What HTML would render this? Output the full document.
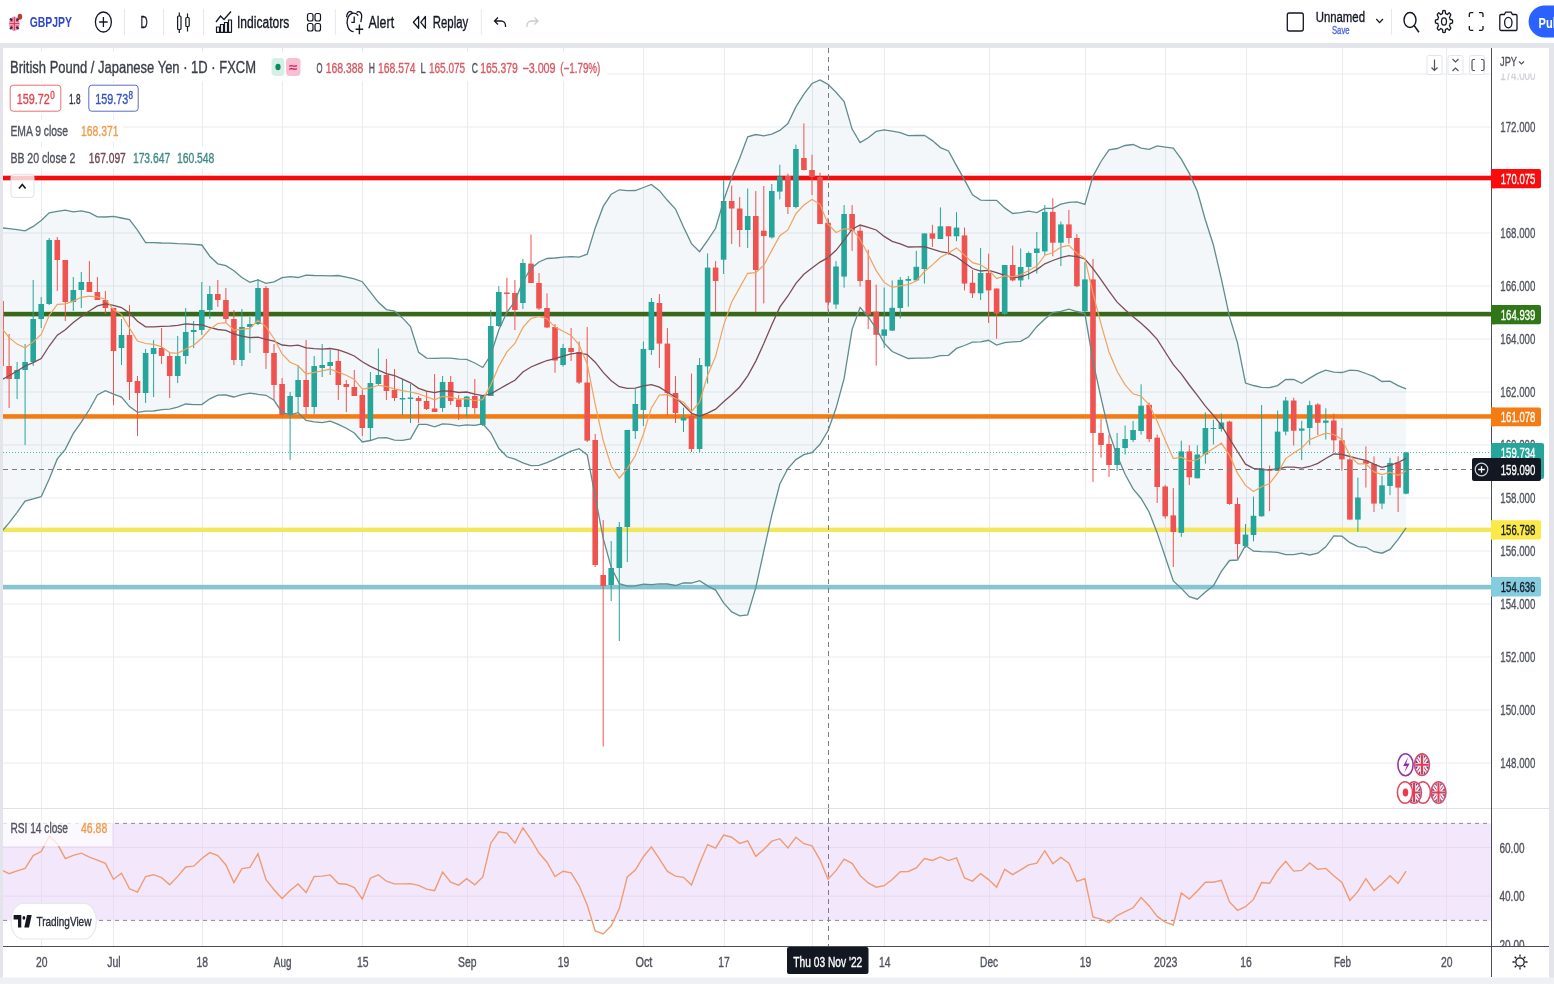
<!DOCTYPE html>
<html><head><meta charset="utf-8"><title>GBPJPY chart</title>
<style>html,body{margin:0;padding:0;background:#fff;overflow:hidden}svg{display:block}text{font-family:'Liberation Sans', Arial, sans-serif}</style>
</head><body>
<svg width="1554" height="984" viewBox="0 0 1554 984">
<rect x="0" y="0" width="1554" height="984" fill="#ffffff"/>
<rect x="0" y="43" width="1554" height="5" fill="#e3e5ea"/>
<rect x="0" y="43" width="3" height="941" fill="#e3e5ea"/>
<rect x="1549" y="43" width="5" height="941" fill="#e3e5ea"/>
<rect x="0" y="977.5" width="1554" height="7" fill="#eef0f3"/>
<defs><clipPath id="cm"><rect x="3" y="48" width="1488" height="760"/></clipPath><clipPath id="cr"><rect x="3" y="809" width="1488" height="137"/></clipPath></defs>
<path d="M41.5 48V808M41.5 809V946M113.5 48V808M113.5 809V946M202.5 48V808M202.5 809V946M282.5 48V808M282.5 809V946M362.5 48V808M362.5 809V946M467.5 48V808M467.5 809V946M563.5 48V808M563.5 809V946M643.5 48V808M643.5 809V946M724.5 48V808M724.5 809V946M812.5 48V808M812.5 809V946M884.5 48V808M884.5 809V946M989.5 48V808M989.5 809V946M1085.5 48V808M1085.5 809V946M1165.5 48V808M1165.5 809V946M1246.5 48V808M1246.5 809V946M1342.5 48V808M1342.5 809V946M1446.5 48V808M1446.5 809V946M3 763.0H1491M3 710.0H1491M3 657.0H1491M3 604.0H1491M3 551.0H1491M3 498.0H1491M3 445.0H1491M3 392.0H1491M3 339.0H1491M3 286.0H1491M3 233.0H1491M3 180.0H1491M3 127.0H1491M3 74.0H1491M3 847.6H1491M3 896.1H1491" stroke="#e9ebf0" stroke-width="1" fill="none"/>
<g clip-path="url(#cm)">
<polygon points="1.1,227.8 9.1,228.6 17.1,229.6 25.1,230.9 33.2,226.4 41.2,220.4 49.2,212.9 57.3,211.4 65.3,210.2 73.3,211.8 81.3,210.9 89.4,212.6 97.4,216.8 105.4,217.0 113.5,216.3 121.5,218.0 129.5,219.6 137.5,230.2 145.6,242.6 153.6,242.6 161.6,243.0 169.7,243.2 177.7,243.7 185.7,243.9 193.7,244.4 201.8,245.0 209.8,256.2 217.8,263.8 225.9,265.7 233.9,270.7 241.9,277.5 249.9,282.3 258.0,279.9 266.0,283.4 274.0,281.8 282.1,277.7 290.1,276.6 298.1,277.5 306.1,275.1 314.2,275.5 322.2,275.7 330.2,275.8 338.3,275.5 346.3,277.1 354.3,278.9 362.3,281.7 370.4,292.1 378.4,302.3 386.4,309.6 394.5,311.0 402.5,317.9 410.5,326.6 418.6,352.4 426.6,358.1 434.6,358.4 442.6,358.1 450.7,358.1 458.7,359.2 466.7,359.3 474.8,363.0 482.8,367.5 490.8,354.8 498.8,330.1 506.9,312.3 514.9,301.3 522.9,281.2 531.0,268.4 539.0,262.0 547.0,258.5 555.0,258.0 563.1,257.1 571.1,256.7 579.1,257.2 587.2,254.2 595.2,227.9 603.2,206.4 611.2,194.3 619.3,189.8 627.3,190.6 635.3,190.5 643.4,187.5 651.4,184.5 659.4,190.7 667.4,200.3 675.5,209.1 683.5,227.1 691.5,243.6 699.6,251.7 707.6,240.4 715.6,228.3 723.6,200.8 731.7,177.4 739.7,158.2 747.7,136.8 755.8,134.5 763.8,135.9 771.8,134.2 779.8,130.4 787.9,123.5 795.9,106.9 803.9,94.1 812.0,83.5 820.0,80.0 828.0,84.4 836.0,92.3 844.1,101.5 852.1,129.1 860.1,142.5 868.2,137.8 876.2,131.4 884.2,129.8 892.2,131.2 900.3,132.6 908.3,135.6 916.3,135.5 924.4,135.3 932.4,140.6 940.4,147.6 948.5,150.9 956.5,165.6 964.5,179.9 972.5,194.8 980.6,200.1 988.6,200.4 996.6,200.3 1004.7,207.9 1012.7,213.5 1020.7,212.7 1028.7,211.2 1036.8,212.6 1044.8,208.4 1052.8,208.3 1060.9,204.1 1068.9,202.3 1076.9,201.8 1084.9,204.4 1093.0,176.1 1101.0,161.5 1109.0,149.9 1117.1,148.5 1125.1,145.5 1133.1,144.5 1141.1,148.1 1149.2,149.3 1157.2,145.9 1165.2,147.1 1173.3,148.2 1181.3,159.2 1189.3,173.4 1197.3,191.3 1205.4,220.0 1213.4,245.0 1221.4,279.1 1229.5,316.6 1237.5,342.9 1245.5,383.0 1253.5,385.5 1261.6,387.3 1269.6,387.6 1277.6,385.6 1285.7,379.4 1293.7,379.5 1301.7,383.3 1309.7,378.1 1317.8,373.4 1325.8,370.2 1333.8,372.1 1341.9,372.5 1349.9,370.2 1357.9,370.6 1365.9,373.5 1374.0,376.7 1382.0,381.5 1390.0,381.1 1398.1,385.6 1406.1,388.9 1406.1,527.8 1398.1,539.3 1390.0,549.4 1382.0,553.2 1374.0,551.7 1365.9,547.3 1357.9,546.7 1349.9,542.7 1341.9,536.2 1333.8,535.8 1325.8,546.8 1317.8,553.2 1309.7,555.0 1301.7,553.2 1293.7,554.7 1285.7,554.7 1277.6,552.3 1269.6,551.9 1261.6,551.7 1253.5,551.2 1245.5,545.5 1237.5,560.0 1229.5,560.5 1221.4,571.4 1213.4,585.7 1205.4,592.1 1197.3,599.2 1189.3,596.6 1181.3,588.4 1173.3,580.9 1165.2,556.8 1157.2,532.9 1149.2,512.2 1141.1,498.5 1133.1,488.9 1125.1,474.2 1117.1,455.6 1109.0,432.2 1101.0,397.8 1093.0,361.3 1084.9,313.6 1076.9,311.5 1068.9,309.1 1060.9,311.4 1052.8,312.7 1044.8,319.1 1036.8,326.7 1028.7,336.7 1020.7,341.4 1012.7,341.9 1004.7,342.6 996.6,345.1 988.6,340.3 980.6,341.8 972.5,342.2 964.5,345.5 956.5,348.4 948.5,355.3 940.4,355.6 932.4,357.7 924.4,358.2 916.3,358.2 908.3,358.5 900.3,355.1 892.2,351.5 884.2,343.1 876.2,328.6 868.2,316.9 860.1,307.4 852.1,329.3 844.1,378.7 836.0,408.3 828.0,430.8 820.0,444.3 812.0,452.7 803.9,454.6 795.9,459.6 787.9,468.5 779.8,484.0 771.8,515.2 763.8,551.2 755.8,587.7 747.7,614.8 739.7,615.9 731.7,611.9 723.6,602.9 715.6,590.1 707.6,585.9 699.6,580.6 691.5,583.0 683.5,583.0 675.5,585.5 667.4,584.0 659.4,583.8 651.4,584.7 643.4,584.2 635.3,585.9 627.3,586.1 619.3,583.6 611.2,567.2 603.2,538.4 595.2,496.4 587.2,454.8 579.1,448.7 571.1,451.1 563.1,455.2 555.0,459.2 547.0,462.6 539.0,465.4 531.0,465.6 522.9,462.9 514.9,459.2 506.9,456.8 498.8,448.3 490.8,432.9 482.8,423.8 474.8,425.3 466.7,424.8 458.7,425.9 450.7,424.3 442.6,423.8 434.6,426.8 426.6,424.3 418.6,424.4 410.5,438.9 402.5,440.3 394.5,440.1 386.4,437.7 378.4,437.8 370.4,440.5 362.3,442.0 354.3,433.0 346.3,428.2 338.3,424.3 330.2,421.1 322.2,422.6 314.2,421.9 306.1,420.5 298.1,412.7 290.1,414.9 282.1,412.4 274.0,400.3 266.0,395.3 258.0,394.3 249.9,393.1 241.9,394.7 233.9,397.0 225.9,395.0 217.8,395.2 209.8,398.8 201.8,404.6 193.7,404.6 185.7,404.0 177.7,407.2 169.7,409.1 161.6,409.6 153.6,411.0 145.6,411.2 137.5,412.4 129.5,406.6 121.5,397.1 113.5,394.2 105.4,390.7 97.4,395.0 89.4,409.5 81.3,422.2 73.3,433.4 65.3,449.3 57.3,458.9 49.2,479.1 41.2,496.7 33.2,498.8 25.1,501.1 17.1,512.3 9.1,522.9 1.1,532.2" fill="#5d8db0" fill-opacity="0.075"/>
<rect x="3" y="175.7" width="1488" height="4.6" fill="#f20c0c"/>
<rect x="3" y="311.8" width="1488" height="4.6" fill="#3a681b"/>
<rect x="3" y="414.2" width="1488" height="4.5" fill="#f47a12"/>
<rect x="3" y="527.6" width="1488" height="4.5" fill="#f3e65a"/>
<rect x="3" y="584.8" width="1488" height="4.6" fill="#86c4cf"/>
<path d="M3 452.5H1491" stroke="#26a69a" stroke-width="1" stroke-dasharray="1 2" opacity="0.8"/>
<path d="M1.1 298.0V370.0" stroke="#ef5350" stroke-width="1"/><rect x="-1.7" y="301.0" width="5.6" height="65.0" fill="#ef5350"/><path d="M9.1 334.0V408.0" stroke="#ef5350" stroke-width="1"/><rect x="6.3" y="366.0" width="5.6" height="13.0" fill="#ef5350"/><path d="M17.1 362.0V399.0" stroke="#26a69a" stroke-width="1"/><rect x="14.3" y="370.0" width="5.6" height="9.0" fill="#26a69a"/><path d="M25.1 344.0V445.0" stroke="#26a69a" stroke-width="1"/><rect x="22.3" y="362.0" width="5.6" height="8.0" fill="#26a69a"/><path d="M33.2 280.0V366.0" stroke="#26a69a" stroke-width="1"/><rect x="30.4" y="319.0" width="5.6" height="43.0" fill="#26a69a"/><path d="M41.2 297.0V328.0" stroke="#26a69a" stroke-width="1"/><rect x="38.4" y="304.0" width="5.6" height="15.0" fill="#26a69a"/><path d="M49.2 238.0V305.0" stroke="#26a69a" stroke-width="1"/><rect x="46.4" y="240.0" width="5.6" height="64.0" fill="#26a69a"/><path d="M57.3 237.0V291.0" stroke="#ef5350" stroke-width="1"/><rect x="54.5" y="240.0" width="5.6" height="20.0" fill="#ef5350"/><path d="M65.3 260.0V321.0" stroke="#ef5350" stroke-width="1"/><rect x="62.5" y="260.0" width="5.6" height="42.0" fill="#ef5350"/><path d="M73.3 277.0V311.0" stroke="#26a69a" stroke-width="1"/><rect x="70.5" y="290.0" width="5.6" height="12.0" fill="#26a69a"/><path d="M81.3 272.0V308.0" stroke="#26a69a" stroke-width="1"/><rect x="78.5" y="282.0" width="5.6" height="8.0" fill="#26a69a"/><path d="M89.4 261.0V292.0" stroke="#ef5350" stroke-width="1"/><rect x="86.6" y="282.0" width="5.6" height="10.0" fill="#ef5350"/><path d="M97.4 277.0V300.0" stroke="#ef5350" stroke-width="1"/><rect x="94.6" y="292.0" width="5.6" height="8.0" fill="#ef5350"/><path d="M105.4 291.0V314.0" stroke="#ef5350" stroke-width="1"/><rect x="102.6" y="300.0" width="5.6" height="8.0" fill="#ef5350"/><path d="M113.5 308.0V405.0" stroke="#ef5350" stroke-width="1"/><rect x="110.7" y="308.0" width="5.6" height="43.0" fill="#ef5350"/><path d="M121.5 319.0V365.0" stroke="#26a69a" stroke-width="1"/><rect x="118.7" y="335.0" width="5.6" height="13.0" fill="#26a69a"/><path d="M129.5 305.0V400.0" stroke="#ef5350" stroke-width="1"/><rect x="126.7" y="335.0" width="5.6" height="47.0" fill="#ef5350"/><path d="M137.5 376.0V436.0" stroke="#ef5350" stroke-width="1"/><rect x="134.7" y="381.0" width="5.6" height="12.0" fill="#ef5350"/><path d="M145.6 349.0V403.0" stroke="#26a69a" stroke-width="1"/><rect x="142.8" y="353.0" width="5.6" height="40.0" fill="#26a69a"/><path d="M153.6 340.0V397.0" stroke="#26a69a" stroke-width="1"/><rect x="150.8" y="348.0" width="5.6" height="6.0" fill="#26a69a"/><path d="M161.6 328.0V364.0" stroke="#ef5350" stroke-width="1"/><rect x="158.8" y="348.0" width="5.6" height="8.0" fill="#ef5350"/><path d="M169.7 353.0V398.0" stroke="#ef5350" stroke-width="1"/><rect x="166.9" y="356.0" width="5.6" height="20.0" fill="#ef5350"/><path d="M177.7 336.0V383.0" stroke="#26a69a" stroke-width="1"/><rect x="174.9" y="356.0" width="5.6" height="20.0" fill="#26a69a"/><path d="M185.7 308.0V364.0" stroke="#26a69a" stroke-width="1"/><rect x="182.9" y="332.0" width="5.6" height="24.0" fill="#26a69a"/><path d="M193.7 321.0V348.0" stroke="#26a69a" stroke-width="1"/><rect x="190.9" y="330.0" width="5.6" height="2.0" fill="#26a69a"/><path d="M201.8 282.0V335.0" stroke="#26a69a" stroke-width="1"/><rect x="199.0" y="310.0" width="5.6" height="20.0" fill="#26a69a"/><path d="M209.8 286.0V319.0" stroke="#26a69a" stroke-width="1"/><rect x="207.0" y="294.0" width="5.6" height="16.0" fill="#26a69a"/><path d="M217.8 280.0V307.0" stroke="#ef5350" stroke-width="1"/><rect x="215.0" y="294.0" width="5.6" height="6.0" fill="#ef5350"/><path d="M225.9 288.0V322.0" stroke="#ef5350" stroke-width="1"/><rect x="223.1" y="300.0" width="5.6" height="19.0" fill="#ef5350"/><path d="M233.9 310.0V365.0" stroke="#ef5350" stroke-width="1"/><rect x="231.1" y="319.0" width="5.6" height="41.0" fill="#ef5350"/><path d="M241.9 309.0V366.0" stroke="#26a69a" stroke-width="1"/><rect x="239.1" y="327.0" width="5.6" height="33.0" fill="#26a69a"/><path d="M249.9 317.0V353.0" stroke="#26a69a" stroke-width="1"/><rect x="247.1" y="324.0" width="5.6" height="3.0" fill="#26a69a"/><path d="M258.0 279.0V325.0" stroke="#26a69a" stroke-width="1"/><rect x="255.2" y="288.0" width="5.6" height="36.0" fill="#26a69a"/><path d="M266.0 286.0V369.0" stroke="#ef5350" stroke-width="1"/><rect x="263.2" y="288.0" width="5.6" height="65.0" fill="#ef5350"/><path d="M274.0 344.0V400.0" stroke="#ef5350" stroke-width="1"/><rect x="271.2" y="353.0" width="5.6" height="32.0" fill="#ef5350"/><path d="M282.1 378.0V417.0" stroke="#ef5350" stroke-width="1"/><rect x="279.3" y="384.0" width="5.6" height="31.0" fill="#ef5350"/><path d="M290.1 392.0V460.0" stroke="#26a69a" stroke-width="1"/><rect x="287.3" y="396.0" width="5.6" height="19.0" fill="#26a69a"/><path d="M298.1 365.0V413.0" stroke="#26a69a" stroke-width="1"/><rect x="295.3" y="380.0" width="5.6" height="17.0" fill="#26a69a"/><path d="M306.1 340.0V415.0" stroke="#ef5350" stroke-width="1"/><rect x="303.3" y="380.0" width="5.6" height="27.0" fill="#ef5350"/><path d="M314.2 356.0V414.0" stroke="#26a69a" stroke-width="1"/><rect x="311.4" y="366.0" width="5.6" height="41.0" fill="#26a69a"/><path d="M322.2 344.0V377.0" stroke="#26a69a" stroke-width="1"/><rect x="319.4" y="365.0" width="5.6" height="3.0" fill="#26a69a"/><path d="M330.2 350.0V375.0" stroke="#26a69a" stroke-width="1"/><rect x="327.4" y="362.0" width="5.6" height="4.0" fill="#26a69a"/><path d="M338.3 350.0V400.0" stroke="#ef5350" stroke-width="1"/><rect x="335.5" y="361.0" width="5.6" height="24.0" fill="#ef5350"/><path d="M346.3 380.0V412.0" stroke="#ef5350" stroke-width="1"/><rect x="343.5" y="384.0" width="5.6" height="3.0" fill="#ef5350"/><path d="M354.3 370.0V396.0" stroke="#ef5350" stroke-width="1"/><rect x="351.5" y="387.0" width="5.6" height="9.0" fill="#ef5350"/><path d="M362.3 390.0V436.0" stroke="#ef5350" stroke-width="1"/><rect x="359.5" y="395.0" width="5.6" height="33.0" fill="#ef5350"/><path d="M370.4 372.0V440.0" stroke="#26a69a" stroke-width="1"/><rect x="367.6" y="383.0" width="5.6" height="45.0" fill="#26a69a"/><path d="M378.4 348.5V385.0" stroke="#26a69a" stroke-width="1"/><rect x="375.6" y="375.0" width="5.6" height="9.0" fill="#26a69a"/><path d="M386.4 359.0V400.0" stroke="#ef5350" stroke-width="1"/><rect x="383.6" y="375.0" width="5.6" height="16.0" fill="#ef5350"/><path d="M394.5 369.0V401.0" stroke="#ef5350" stroke-width="1"/><rect x="391.7" y="390.0" width="5.6" height="8.0" fill="#ef5350"/><path d="M402.5 379.0V415.0" stroke="#26a69a" stroke-width="1"/><rect x="399.7" y="398.0" width="5.6" height="1.5" fill="#26a69a"/><path d="M410.5 384.0V423.0" stroke="#26a69a" stroke-width="1"/><rect x="407.7" y="397.5" width="5.6" height="1.5" fill="#26a69a"/><path d="M418.6 396.0V423.0" stroke="#ef5350" stroke-width="1"/><rect x="415.8" y="398.0" width="5.6" height="3.0" fill="#ef5350"/><path d="M426.6 391.0V410.0" stroke="#ef5350" stroke-width="1"/><rect x="423.8" y="401.0" width="5.6" height="8.0" fill="#ef5350"/><path d="M434.6 374.0V412.0" stroke="#ef5350" stroke-width="1"/><rect x="431.8" y="408.5" width="5.6" height="3.5" fill="#ef5350"/><path d="M442.6 376.0V412.0" stroke="#26a69a" stroke-width="1"/><rect x="439.8" y="382.0" width="5.6" height="26.0" fill="#26a69a"/><path d="M450.7 376.0V405.0" stroke="#ef5350" stroke-width="1"/><rect x="447.9" y="382.0" width="5.6" height="19.0" fill="#ef5350"/><path d="M458.7 395.0V420.0" stroke="#ef5350" stroke-width="1"/><rect x="455.9" y="399.5" width="5.6" height="7.5" fill="#ef5350"/><path d="M466.7 396.0V417.0" stroke="#26a69a" stroke-width="1"/><rect x="463.9" y="396.6" width="5.6" height="10.4" fill="#26a69a"/><path d="M474.8 379.0V414.0" stroke="#ef5350" stroke-width="1"/><rect x="472.0" y="396.0" width="5.6" height="12.0" fill="#ef5350"/><path d="M482.8 395.0V426.0" stroke="#26a69a" stroke-width="1"/><rect x="480.0" y="396.0" width="5.6" height="29.0" fill="#26a69a"/><path d="M490.8 310.0V396.0" stroke="#26a69a" stroke-width="1"/><rect x="488.0" y="326.0" width="5.6" height="70.0" fill="#26a69a"/><path d="M498.8 286.0V327.0" stroke="#26a69a" stroke-width="1"/><rect x="496.0" y="292.0" width="5.6" height="34.0" fill="#26a69a"/><path d="M506.9 277.6V314.0" stroke="#ef5350" stroke-width="1"/><rect x="504.1" y="292.5" width="5.6" height="1.5" fill="#ef5350"/><path d="M514.9 280.0V330.0" stroke="#ef5350" stroke-width="1"/><rect x="512.1" y="293.0" width="5.6" height="17.0" fill="#ef5350"/><path d="M522.9 259.0V309.0" stroke="#26a69a" stroke-width="1"/><rect x="520.1" y="263.0" width="5.6" height="40.0" fill="#26a69a"/><path d="M531.0 234.5V283.0" stroke="#ef5350" stroke-width="1"/><rect x="528.2" y="263.6" width="5.6" height="19.4" fill="#ef5350"/><path d="M539.0 273.0V310.0" stroke="#ef5350" stroke-width="1"/><rect x="536.2" y="283.0" width="5.6" height="25.5" fill="#ef5350"/><path d="M547.0 293.4V328.0" stroke="#ef5350" stroke-width="1"/><rect x="544.2" y="308.0" width="5.6" height="19.5" fill="#ef5350"/><path d="M555.0 324.0V372.7" stroke="#ef5350" stroke-width="1"/><rect x="552.2" y="327.0" width="5.6" height="33.5" fill="#ef5350"/><path d="M563.1 344.0V366.6" stroke="#26a69a" stroke-width="1"/><rect x="560.3" y="348.0" width="5.6" height="17.0" fill="#26a69a"/><path d="M571.1 328.0V361.0" stroke="#ef5350" stroke-width="1"/><rect x="568.3" y="348.0" width="5.6" height="4.0" fill="#ef5350"/><path d="M579.1 341.5V384.0" stroke="#ef5350" stroke-width="1"/><rect x="576.3" y="352.0" width="5.6" height="30.5" fill="#ef5350"/><path d="M587.2 327.0V442.0" stroke="#ef5350" stroke-width="1"/><rect x="584.4" y="382.5" width="5.6" height="58.1" fill="#ef5350"/><path d="M595.2 434.0V567.0" stroke="#ef5350" stroke-width="1"/><rect x="592.4" y="440.0" width="5.6" height="125.0" fill="#ef5350"/><path d="M603.2 520.0V746.5" stroke="#ef5350" stroke-width="1"/><rect x="600.4" y="575.0" width="5.6" height="11.0" fill="#ef5350"/><path d="M611.2 541.0V601.0" stroke="#26a69a" stroke-width="1"/><rect x="608.4" y="568.0" width="5.6" height="17.0" fill="#26a69a"/><path d="M619.3 522.0V641.0" stroke="#26a69a" stroke-width="1"/><rect x="616.5" y="527.0" width="5.6" height="41.0" fill="#26a69a"/><path d="M627.3 430.0V562.0" stroke="#26a69a" stroke-width="1"/><rect x="624.5" y="430.0" width="5.6" height="97.0" fill="#26a69a"/><path d="M635.3 389.0V439.0" stroke="#26a69a" stroke-width="1"/><rect x="632.5" y="404.0" width="5.6" height="27.0" fill="#26a69a"/><path d="M643.4 341.5V426.0" stroke="#26a69a" stroke-width="1"/><rect x="640.6" y="349.0" width="5.6" height="61.0" fill="#26a69a"/><path d="M651.4 298.0V355.0" stroke="#26a69a" stroke-width="1"/><rect x="648.6" y="302.0" width="5.6" height="48.0" fill="#26a69a"/><path d="M659.4 294.0V368.0" stroke="#ef5350" stroke-width="1"/><rect x="656.6" y="303.0" width="5.6" height="40.6" fill="#ef5350"/><path d="M667.4 328.0V415.0" stroke="#ef5350" stroke-width="1"/><rect x="664.6" y="343.6" width="5.6" height="49.4" fill="#ef5350"/><path d="M675.5 376.0V423.0" stroke="#ef5350" stroke-width="1"/><rect x="672.7" y="393.0" width="5.6" height="20.0" fill="#ef5350"/><path d="M683.5 407.7V432.0" stroke="#26a69a" stroke-width="1"/><rect x="680.7" y="417.6" width="5.6" height="2.9" fill="#26a69a"/><path d="M691.5 373.5V452.0" stroke="#ef5350" stroke-width="1"/><rect x="688.7" y="416.0" width="5.6" height="33.0" fill="#ef5350"/><path d="M699.6 358.0V452.0" stroke="#26a69a" stroke-width="1"/><rect x="696.8" y="365.0" width="5.6" height="84.0" fill="#26a69a"/><path d="M707.6 253.4V383.5" stroke="#26a69a" stroke-width="1"/><rect x="704.8" y="267.6" width="5.6" height="98.8" fill="#26a69a"/><path d="M715.6 261.0V312.0" stroke="#ef5350" stroke-width="1"/><rect x="712.8" y="267.6" width="5.6" height="13.4" fill="#ef5350"/><path d="M723.6 180.0V274.0" stroke="#26a69a" stroke-width="1"/><rect x="720.8" y="201.0" width="5.6" height="58.7" fill="#26a69a"/><path d="M731.7 185.7V244.0" stroke="#ef5350" stroke-width="1"/><rect x="728.9" y="201.0" width="5.6" height="7.5" fill="#ef5350"/><path d="M739.7 197.0V247.0" stroke="#ef5350" stroke-width="1"/><rect x="736.9" y="208.5" width="5.6" height="21.5" fill="#ef5350"/><path d="M747.7 188.5V248.0" stroke="#26a69a" stroke-width="1"/><rect x="744.9" y="216.0" width="5.6" height="14.0" fill="#26a69a"/><path d="M755.8 191.0V312.0" stroke="#ef5350" stroke-width="1"/><rect x="753.0" y="216.0" width="5.6" height="54.0" fill="#ef5350"/><path d="M763.8 186.0V303.4" stroke="#ef5350" stroke-width="1"/><rect x="761.0" y="230.7" width="5.6" height="5.3" fill="#ef5350"/><path d="M771.8 184.0V238.5" stroke="#26a69a" stroke-width="1"/><rect x="769.0" y="191.0" width="5.6" height="46.4" fill="#26a69a"/><path d="M779.8 164.8V199.4" stroke="#26a69a" stroke-width="1"/><rect x="777.0" y="176.6" width="5.6" height="15.0" fill="#26a69a"/><path d="M787.9 173.7V214.0" stroke="#ef5350" stroke-width="1"/><rect x="785.1" y="176.0" width="5.6" height="31.0" fill="#ef5350"/><path d="M795.9 144.6V208.4" stroke="#26a69a" stroke-width="1"/><rect x="793.1" y="149.0" width="5.6" height="58.0" fill="#26a69a"/><path d="M803.9 123.4V170.4" stroke="#ef5350" stroke-width="1"/><rect x="801.1" y="158.0" width="5.6" height="12.0" fill="#ef5350"/><path d="M812.0 154.7V195.0" stroke="#ef5350" stroke-width="1"/><rect x="809.2" y="170.0" width="5.6" height="7.0" fill="#ef5350"/><path d="M820.0 172.6V224.0" stroke="#ef5350" stroke-width="1"/><rect x="817.2" y="177.0" width="5.6" height="47.0" fill="#ef5350"/><path d="M828.0 217.8V310.5" stroke="#ef5350" stroke-width="1"/><rect x="825.2" y="222.7" width="5.6" height="79.8" fill="#ef5350"/><path d="M836.0 261.0V309.0" stroke="#26a69a" stroke-width="1"/><rect x="833.2" y="266.5" width="5.6" height="38.0" fill="#26a69a"/><path d="M844.1 205.0V287.7" stroke="#26a69a" stroke-width="1"/><rect x="841.3" y="214.0" width="5.6" height="62.6" fill="#26a69a"/><path d="M852.1 205.0V251.0" stroke="#ef5350" stroke-width="1"/><rect x="849.3" y="214.0" width="5.6" height="16.7" fill="#ef5350"/><path d="M860.1 225.0V286.6" stroke="#ef5350" stroke-width="1"/><rect x="857.3" y="230.7" width="5.6" height="50.3" fill="#ef5350"/><path d="M868.2 249.7V329.0" stroke="#ef5350" stroke-width="1"/><rect x="865.4" y="280.0" width="5.6" height="34.6" fill="#ef5350"/><path d="M876.2 284.6V365.7" stroke="#ef5350" stroke-width="1"/><rect x="873.4" y="311.6" width="5.6" height="23.2" fill="#ef5350"/><path d="M884.2 287.5V348.0" stroke="#26a69a" stroke-width="1"/><rect x="881.4" y="329.4" width="5.6" height="6.4" fill="#26a69a"/><path d="M892.2 280.4V331.0" stroke="#26a69a" stroke-width="1"/><rect x="889.4" y="307.8" width="5.6" height="22.8" fill="#26a69a"/><path d="M900.3 277.0V318.4" stroke="#26a69a" stroke-width="1"/><rect x="897.5" y="279.8" width="5.6" height="28.2" fill="#26a69a"/><path d="M908.3 276.0V306.8" stroke="#26a69a" stroke-width="1"/><rect x="905.5" y="279.0" width="5.6" height="1.8" fill="#26a69a"/><path d="M916.3 250.8V280.8" stroke="#26a69a" stroke-width="1"/><rect x="913.5" y="266.8" width="5.6" height="13.6" fill="#26a69a"/><path d="M924.4 233.4V283.6" stroke="#26a69a" stroke-width="1"/><rect x="921.6" y="233.4" width="5.6" height="35.6" fill="#26a69a"/><path d="M932.4 224.8V247.0" stroke="#ef5350" stroke-width="1"/><rect x="929.6" y="233.4" width="5.6" height="5.3" fill="#ef5350"/><path d="M940.4 207.4V239.0" stroke="#26a69a" stroke-width="1"/><rect x="937.6" y="226.3" width="5.6" height="12.7" fill="#26a69a"/><path d="M948.5 226.3V254.7" stroke="#ef5350" stroke-width="1"/><rect x="945.7" y="226.3" width="5.6" height="10.0" fill="#ef5350"/><path d="M956.5 212.2V241.2" stroke="#26a69a" stroke-width="1"/><rect x="953.7" y="227.6" width="5.6" height="8.7" fill="#26a69a"/><path d="M964.5 227.6V290.4" stroke="#ef5350" stroke-width="1"/><rect x="961.7" y="235.4" width="5.6" height="48.2" fill="#ef5350"/><path d="M972.5 270.0V298.0" stroke="#ef5350" stroke-width="1"/><rect x="969.7" y="282.7" width="5.6" height="10.6" fill="#ef5350"/><path d="M980.6 248.0V300.0" stroke="#26a69a" stroke-width="1"/><rect x="977.8" y="273.0" width="5.6" height="20.3" fill="#26a69a"/><path d="M988.6 253.7V323.0" stroke="#ef5350" stroke-width="1"/><rect x="985.8" y="273.0" width="5.6" height="17.4" fill="#ef5350"/><path d="M996.6 288.5V338.7" stroke="#ef5350" stroke-width="1"/><rect x="993.8" y="288.5" width="5.6" height="25.1" fill="#ef5350"/><path d="M1004.7 265.0V315.0" stroke="#26a69a" stroke-width="1"/><rect x="1001.9" y="265.0" width="5.6" height="49.0" fill="#26a69a"/><path d="M1012.7 245.6V281.4" stroke="#ef5350" stroke-width="1"/><rect x="1009.9" y="265.0" width="5.6" height="15.4" fill="#ef5350"/><path d="M1020.7 248.5V287.0" stroke="#26a69a" stroke-width="1"/><rect x="1017.9" y="267.0" width="5.6" height="13.4" fill="#26a69a"/><path d="M1028.7 251.4V279.4" stroke="#26a69a" stroke-width="1"/><rect x="1025.9" y="253.0" width="5.6" height="14.0" fill="#26a69a"/><path d="M1036.8 232.0V273.6" stroke="#26a69a" stroke-width="1"/><rect x="1034.0" y="248.5" width="5.6" height="4.5" fill="#26a69a"/><path d="M1044.8 205.0V255.3" stroke="#26a69a" stroke-width="1"/><rect x="1042.0" y="211.9" width="5.6" height="39.5" fill="#26a69a"/><path d="M1052.8 198.3V256.3" stroke="#ef5350" stroke-width="1"/><rect x="1050.0" y="211.9" width="5.6" height="30.8" fill="#ef5350"/><path d="M1060.9 221.5V266.0" stroke="#26a69a" stroke-width="1"/><rect x="1058.1" y="224.4" width="5.6" height="18.3" fill="#26a69a"/><path d="M1068.9 210.0V243.7" stroke="#ef5350" stroke-width="1"/><rect x="1066.1" y="224.4" width="5.6" height="13.6" fill="#ef5350"/><path d="M1076.9 234.0V287.2" stroke="#ef5350" stroke-width="1"/><rect x="1074.1" y="238.0" width="5.6" height="48.2" fill="#ef5350"/><path d="M1084.9 262.0V312.3" stroke="#26a69a" stroke-width="1"/><rect x="1082.1" y="279.4" width="5.6" height="31.9" fill="#26a69a"/><path d="M1093.0 259.0V482.0" stroke="#ef5350" stroke-width="1"/><rect x="1090.2" y="279.4" width="5.6" height="153.6" fill="#ef5350"/><path d="M1101.0 419.0V457.5" stroke="#ef5350" stroke-width="1"/><rect x="1098.2" y="433.0" width="5.6" height="12.0" fill="#ef5350"/><path d="M1109.0 434.6V477.0" stroke="#ef5350" stroke-width="1"/><rect x="1106.2" y="444.0" width="5.6" height="21.0" fill="#ef5350"/><path d="M1117.1 433.0V471.0" stroke="#26a69a" stroke-width="1"/><rect x="1114.3" y="448.0" width="5.6" height="17.0" fill="#26a69a"/><path d="M1125.1 425.5V454.5" stroke="#26a69a" stroke-width="1"/><rect x="1122.3" y="439.0" width="5.6" height="9.0" fill="#26a69a"/><path d="M1133.1 421.0V442.0" stroke="#26a69a" stroke-width="1"/><rect x="1130.3" y="430.0" width="5.6" height="10.0" fill="#26a69a"/><path d="M1141.1 384.3V434.6" stroke="#26a69a" stroke-width="1"/><rect x="1138.3" y="405.7" width="5.6" height="25.3" fill="#26a69a"/><path d="M1149.2 402.6V442.0" stroke="#ef5350" stroke-width="1"/><rect x="1146.4" y="404.8" width="5.6" height="34.2" fill="#ef5350"/><path d="M1157.2 434.6V503.0" stroke="#ef5350" stroke-width="1"/><rect x="1154.4" y="437.7" width="5.6" height="49.3" fill="#ef5350"/><path d="M1165.2 485.0V518.5" stroke="#ef5350" stroke-width="1"/><rect x="1162.4" y="486.5" width="5.6" height="29.8" fill="#ef5350"/><path d="M1173.3 488.0V567.0" stroke="#ef5350" stroke-width="1"/><rect x="1170.5" y="515.4" width="5.6" height="16.6" fill="#ef5350"/><path d="M1181.3 440.7V536.8" stroke="#26a69a" stroke-width="1"/><rect x="1178.5" y="451.4" width="5.6" height="81.4" fill="#26a69a"/><path d="M1189.3 445.3V485.0" stroke="#ef5350" stroke-width="1"/><rect x="1186.5" y="451.4" width="5.6" height="25.9" fill="#ef5350"/><path d="M1197.3 445.4V478.3" stroke="#26a69a" stroke-width="1"/><rect x="1194.5" y="454.5" width="5.6" height="23.8" fill="#26a69a"/><path d="M1205.4 412.4V463.7" stroke="#26a69a" stroke-width="1"/><rect x="1202.6" y="428.0" width="5.6" height="26.5" fill="#26a69a"/><path d="M1213.4 419.8V444.4" stroke="#26a69a" stroke-width="1"/><rect x="1210.6" y="428.0" width="5.6" height="1.0" fill="#26a69a"/><path d="M1221.4 413.4V431.6" stroke="#26a69a" stroke-width="1"/><rect x="1218.6" y="422.5" width="5.6" height="6.5" fill="#26a69a"/><path d="M1229.5 420.7V504.8" stroke="#ef5350" stroke-width="1"/><rect x="1226.7" y="421.6" width="5.6" height="82.4" fill="#ef5350"/><path d="M1237.5 497.5V558.8" stroke="#ef5350" stroke-width="1"/><rect x="1234.7" y="504.0" width="5.6" height="40.0" fill="#ef5350"/><path d="M1245.5 524.0V547.8" stroke="#26a69a" stroke-width="1"/><rect x="1242.7" y="534.6" width="5.6" height="11.4" fill="#26a69a"/><path d="M1253.5 496.6V541.4" stroke="#26a69a" stroke-width="1"/><rect x="1250.7" y="515.8" width="5.6" height="19.2" fill="#26a69a"/><path d="M1261.6 405.0V516.7" stroke="#26a69a" stroke-width="1"/><rect x="1258.8" y="468.2" width="5.6" height="48.1" fill="#26a69a"/><path d="M1269.6 465.5V511.2" stroke="#ef5350" stroke-width="1"/><rect x="1266.8" y="469.0" width="5.6" height="1.6" fill="#ef5350"/><path d="M1277.6 410.6V471.0" stroke="#26a69a" stroke-width="1"/><rect x="1274.8" y="431.6" width="5.6" height="39.4" fill="#26a69a"/><path d="M1285.7 397.0V435.3" stroke="#26a69a" stroke-width="1"/><rect x="1282.9" y="400.5" width="5.6" height="31.1" fill="#26a69a"/><path d="M1293.7 397.8V445.4" stroke="#ef5350" stroke-width="1"/><rect x="1290.9" y="400.5" width="5.6" height="30.2" fill="#ef5350"/><path d="M1301.7 420.7V460.0" stroke="#26a69a" stroke-width="1"/><rect x="1298.9" y="428.5" width="5.6" height="2.2" fill="#26a69a"/><path d="M1309.7 400.7V444.9" stroke="#26a69a" stroke-width="1"/><rect x="1306.9" y="405.2" width="5.6" height="22.8" fill="#26a69a"/><path d="M1317.8 403.0V435.0" stroke="#ef5350" stroke-width="1"/><rect x="1315.0" y="404.5" width="5.6" height="18.3" fill="#ef5350"/><path d="M1325.8 408.3V439.5" stroke="#26a69a" stroke-width="1"/><rect x="1323.0" y="420.5" width="5.6" height="2.3" fill="#26a69a"/><path d="M1333.8 413.6V452.5" stroke="#ef5350" stroke-width="1"/><rect x="1331.0" y="420.5" width="5.6" height="19.8" fill="#ef5350"/><path d="M1341.9 428.0V470.8" stroke="#ef5350" stroke-width="1"/><rect x="1339.1" y="440.3" width="5.6" height="19.1" fill="#ef5350"/><path d="M1349.9 457.8V519.6" stroke="#ef5350" stroke-width="1"/><rect x="1347.1" y="459.4" width="5.6" height="60.2" fill="#ef5350"/><path d="M1357.9 477.6V531.8" stroke="#26a69a" stroke-width="1"/><rect x="1355.1" y="497.5" width="5.6" height="22.1" fill="#26a69a"/><path d="M1365.9 446.4V487.6" stroke="#ef5350" stroke-width="1"/><rect x="1363.1" y="460.5" width="5.6" height="3.5" fill="#ef5350"/><path d="M1374.0 456.3V512.0" stroke="#ef5350" stroke-width="1"/><rect x="1371.2" y="464.0" width="5.6" height="39.6" fill="#ef5350"/><path d="M1382.0 476.0V509.0" stroke="#26a69a" stroke-width="1"/><rect x="1379.2" y="485.3" width="5.6" height="18.3" fill="#26a69a"/><path d="M1390.0 457.8V495.2" stroke="#26a69a" stroke-width="1"/><rect x="1387.2" y="462.9" width="5.6" height="23.1" fill="#26a69a"/><path d="M1398.1 456.3V512.0" stroke="#ef5350" stroke-width="1"/><rect x="1395.3" y="462.4" width="5.6" height="25.2" fill="#ef5350"/><path d="M1406.1 451.7V494.4" stroke="#26a69a" stroke-width="1"/><rect x="1403.3" y="452.5" width="5.6" height="41.2" fill="#26a69a"/>
<polyline points="1.1,227.8 9.1,228.6 17.1,229.6 25.1,230.9 33.2,226.4 41.2,220.4 49.2,212.9 57.3,211.4 65.3,210.2 73.3,211.8 81.3,210.9 89.4,212.6 97.4,216.8 105.4,217.0 113.5,216.3 121.5,218.0 129.5,219.6 137.5,230.2 145.6,242.6 153.6,242.6 161.6,243.0 169.7,243.2 177.7,243.7 185.7,243.9 193.7,244.4 201.8,245.0 209.8,256.2 217.8,263.8 225.9,265.7 233.9,270.7 241.9,277.5 249.9,282.3 258.0,279.9 266.0,283.4 274.0,281.8 282.1,277.7 290.1,276.6 298.1,277.5 306.1,275.1 314.2,275.5 322.2,275.7 330.2,275.8 338.3,275.5 346.3,277.1 354.3,278.9 362.3,281.7 370.4,292.1 378.4,302.3 386.4,309.6 394.5,311.0 402.5,317.9 410.5,326.6 418.6,352.4 426.6,358.1 434.6,358.4 442.6,358.1 450.7,358.1 458.7,359.2 466.7,359.3 474.8,363.0 482.8,367.5 490.8,354.8 498.8,330.1 506.9,312.3 514.9,301.3 522.9,281.2 531.0,268.4 539.0,262.0 547.0,258.5 555.0,258.0 563.1,257.1 571.1,256.7 579.1,257.2 587.2,254.2 595.2,227.9 603.2,206.4 611.2,194.3 619.3,189.8 627.3,190.6 635.3,190.5 643.4,187.5 651.4,184.5 659.4,190.7 667.4,200.3 675.5,209.1 683.5,227.1 691.5,243.6 699.6,251.7 707.6,240.4 715.6,228.3 723.6,200.8 731.7,177.4 739.7,158.2 747.7,136.8 755.8,134.5 763.8,135.9 771.8,134.2 779.8,130.4 787.9,123.5 795.9,106.9 803.9,94.1 812.0,83.5 820.0,80.0 828.0,84.4 836.0,92.3 844.1,101.5 852.1,129.1 860.1,142.5 868.2,137.8 876.2,131.4 884.2,129.8 892.2,131.2 900.3,132.6 908.3,135.6 916.3,135.5 924.4,135.3 932.4,140.6 940.4,147.6 948.5,150.9 956.5,165.6 964.5,179.9 972.5,194.8 980.6,200.1 988.6,200.4 996.6,200.3 1004.7,207.9 1012.7,213.5 1020.7,212.7 1028.7,211.2 1036.8,212.6 1044.8,208.4 1052.8,208.3 1060.9,204.1 1068.9,202.3 1076.9,201.8 1084.9,204.4 1093.0,176.1 1101.0,161.5 1109.0,149.9 1117.1,148.5 1125.1,145.5 1133.1,144.5 1141.1,148.1 1149.2,149.3 1157.2,145.9 1165.2,147.1 1173.3,148.2 1181.3,159.2 1189.3,173.4 1197.3,191.3 1205.4,220.0 1213.4,245.0 1221.4,279.1 1229.5,316.6 1237.5,342.9 1245.5,383.0 1253.5,385.5 1261.6,387.3 1269.6,387.6 1277.6,385.6 1285.7,379.4 1293.7,379.5 1301.7,383.3 1309.7,378.1 1317.8,373.4 1325.8,370.2 1333.8,372.1 1341.9,372.5 1349.9,370.2 1357.9,370.6 1365.9,373.5 1374.0,376.7 1382.0,381.5 1390.0,381.1 1398.1,385.6 1406.1,388.9" fill="none" stroke="#5f8c8e" stroke-width="1.3"/>
<polyline points="1.1,532.2 9.1,522.9 17.1,512.3 25.1,501.1 33.2,498.8 41.2,496.7 49.2,479.1 57.3,458.9 65.3,449.3 73.3,433.4 81.3,422.2 89.4,409.5 97.4,395.0 105.4,390.7 113.5,394.2 121.5,397.1 129.5,406.6 137.5,412.4 145.6,411.2 153.6,411.0 161.6,409.6 169.7,409.1 177.7,407.2 185.7,404.0 193.7,404.6 201.8,404.6 209.8,398.8 217.8,395.2 225.9,395.0 233.9,397.0 241.9,394.7 249.9,393.1 258.0,394.3 266.0,395.3 274.0,400.3 282.1,412.4 290.1,414.9 298.1,412.7 306.1,420.5 314.2,421.9 322.2,422.6 330.2,421.1 338.3,424.3 346.3,428.2 354.3,433.0 362.3,442.0 370.4,440.5 378.4,437.8 386.4,437.7 394.5,440.1 402.5,440.3 410.5,438.9 418.6,424.4 426.6,424.3 434.6,426.8 442.6,423.8 450.7,424.3 458.7,425.9 466.7,424.8 474.8,425.3 482.8,423.8 490.8,432.9 498.8,448.3 506.9,456.8 514.9,459.2 522.9,462.9 531.0,465.6 539.0,465.4 547.0,462.6 555.0,459.2 563.1,455.2 571.1,451.1 579.1,448.7 587.2,454.8 595.2,496.4 603.2,538.4 611.2,567.2 619.3,583.6 627.3,586.1 635.3,585.9 643.4,584.2 651.4,584.7 659.4,583.8 667.4,584.0 675.5,585.5 683.5,583.0 691.5,583.0 699.6,580.6 707.6,585.9 715.6,590.1 723.6,602.9 731.7,611.9 739.7,615.9 747.7,614.8 755.8,587.7 763.8,551.2 771.8,515.2 779.8,484.0 787.9,468.5 795.9,459.6 803.9,454.6 812.0,452.7 820.0,444.3 828.0,430.8 836.0,408.3 844.1,378.7 852.1,329.3 860.1,307.4 868.2,316.9 876.2,328.6 884.2,343.1 892.2,351.5 900.3,355.1 908.3,358.5 916.3,358.2 924.4,358.2 932.4,357.7 940.4,355.6 948.5,355.3 956.5,348.4 964.5,345.5 972.5,342.2 980.6,341.8 988.6,340.3 996.6,345.1 1004.7,342.6 1012.7,341.9 1020.7,341.4 1028.7,336.7 1036.8,326.7 1044.8,319.1 1052.8,312.7 1060.9,311.4 1068.9,309.1 1076.9,311.5 1084.9,313.6 1093.0,361.3 1101.0,397.8 1109.0,432.2 1117.1,455.6 1125.1,474.2 1133.1,488.9 1141.1,498.5 1149.2,512.2 1157.2,532.9 1165.2,556.8 1173.3,580.9 1181.3,588.4 1189.3,596.6 1197.3,599.2 1205.4,592.1 1213.4,585.7 1221.4,571.4 1229.5,560.5 1237.5,560.0 1245.5,545.5 1253.5,551.2 1261.6,551.7 1269.6,551.9 1277.6,552.3 1285.7,554.7 1293.7,554.7 1301.7,553.2 1309.7,555.0 1317.8,553.2 1325.8,546.8 1333.8,535.8 1341.9,536.2 1349.9,542.7 1357.9,546.7 1365.9,547.3 1374.0,551.7 1382.0,553.2 1390.0,549.4 1398.1,539.3 1406.1,527.8" fill="none" stroke="#5f8c8e" stroke-width="1.3"/>
<polyline points="1.1,380.0 9.1,375.7 17.1,371.0 25.1,366.0 33.2,362.6 41.2,358.6 49.2,346.0 57.3,335.2 65.3,329.8 73.3,322.6 81.3,316.6 89.4,311.0 97.4,305.9 105.4,303.8 113.5,305.3 121.5,307.5 129.5,313.1 137.5,321.3 145.6,326.9 153.6,326.8 161.6,326.3 169.7,326.1 177.7,325.4 185.7,323.9 193.7,324.5 201.8,324.8 209.8,327.5 217.8,329.5 225.9,330.3 233.9,333.9 241.9,336.1 249.9,337.7 258.0,337.1 266.0,339.3 274.0,341.1 282.1,345.0 290.1,345.8 298.1,345.1 306.1,347.8 314.2,348.7 322.2,349.2 330.2,348.5 338.3,349.9 346.3,352.6 354.3,356.0 362.3,361.8 370.4,366.3 378.4,370.1 386.4,373.7 394.5,375.5 402.5,379.1 410.5,382.8 418.6,388.4 426.6,391.2 434.6,392.6 442.6,390.9 450.7,391.2 458.7,392.5 466.7,392.0 474.8,394.1 482.8,395.7 490.8,393.9 498.8,389.2 506.9,384.6 514.9,380.3 522.9,372.0 531.0,367.0 539.0,363.7 547.0,360.5 555.0,358.6 563.1,356.1 571.1,353.9 579.1,352.9 587.2,354.5 595.2,362.2 603.2,372.4 611.2,380.7 619.3,386.7 627.3,388.4 635.3,388.2 643.4,385.8 651.4,384.6 659.4,387.2 667.4,392.2 675.5,397.3 683.5,405.0 691.5,413.3 699.6,416.2 707.6,413.2 715.6,409.2 723.6,401.8 731.7,394.7 739.7,387.0 747.7,375.8 755.8,361.1 763.8,343.6 771.8,324.7 779.8,307.2 787.9,296.0 795.9,283.3 803.9,274.3 812.0,268.1 820.0,262.1 828.0,257.6 836.0,250.3 844.1,240.1 852.1,229.2 860.1,225.0 868.2,227.3 876.2,230.0 884.2,236.4 892.2,241.4 900.3,243.9 908.3,247.0 916.3,246.9 924.4,246.7 932.4,249.1 940.4,251.6 948.5,253.1 956.5,257.0 964.5,262.7 972.5,268.5 980.6,271.0 988.6,270.4 996.6,272.7 1004.7,275.3 1012.7,277.7 1020.7,277.0 1028.7,274.0 1036.8,269.6 1044.8,263.8 1052.8,260.5 1060.9,257.7 1068.9,255.7 1076.9,256.7 1084.9,259.0 1093.0,268.7 1101.0,279.6 1109.0,291.1 1117.1,302.1 1125.1,309.8 1133.1,316.7 1141.1,323.3 1149.2,330.7 1157.2,339.4 1165.2,352.0 1173.3,364.6 1181.3,373.8 1189.3,385.0 1197.3,395.3 1205.4,406.1 1213.4,415.4 1221.4,425.3 1229.5,438.6 1237.5,451.5 1245.5,464.2 1253.5,468.4 1261.6,469.5 1269.6,469.8 1277.6,469.0 1285.7,467.1 1293.7,467.1 1301.7,468.2 1309.7,466.5 1317.8,463.3 1325.8,458.5 1333.8,454.0 1341.9,454.3 1349.9,456.5 1357.9,458.6 1365.9,460.4 1374.0,464.2 1382.0,467.3 1390.0,465.3 1398.1,462.5 1406.1,458.4" fill="none" stroke="#7b4d57" stroke-width="1.3"/>
<polyline points="1.1,327.3 9.1,337.6 17.1,344.1 25.1,347.7 33.2,341.9 41.2,334.4 49.2,315.5 57.3,304.4 65.3,303.9 73.3,301.1 81.3,297.3 89.4,296.2 97.4,297.0 105.4,299.2 113.5,309.6 121.5,314.6 129.5,328.1 137.5,341.1 145.6,343.5 153.6,344.4 161.6,346.7 169.7,352.6 177.7,353.3 185.7,349.0 193.7,345.2 201.8,338.2 209.8,329.3 217.8,323.5 225.9,322.6 233.9,330.1 241.9,329.4 249.9,328.4 258.0,320.3 266.0,326.8 274.0,338.5 282.1,353.8 290.1,362.2 298.1,365.8 306.1,374.0 314.2,372.4 322.2,370.9 330.2,369.1 338.3,372.3 346.3,375.3 354.3,379.4 362.3,389.1 370.4,387.9 378.4,385.3 386.4,386.5 394.5,388.8 402.5,390.6 410.5,392.0 418.6,393.8 426.6,396.8 434.6,399.9 442.6,396.3 450.7,397.2 458.7,399.2 466.7,398.7 474.8,400.5 482.8,399.6 490.8,384.9 498.8,366.3 506.9,351.9 514.9,343.5 522.9,327.4 531.0,318.5 539.0,316.5 547.0,318.7 555.0,327.1 563.1,331.3 571.1,335.4 579.1,344.8 587.2,364.0 595.2,404.2 603.2,440.5 611.2,466.0 619.3,478.2 627.3,468.6 635.3,455.7 643.4,434.3 651.4,407.9 659.4,395.0 667.4,394.6 675.5,398.3 683.5,402.2 691.5,411.5 699.6,402.2 707.6,375.3 715.6,356.4 723.6,325.3 731.7,302.0 739.7,287.6 747.7,273.3 755.8,272.6 763.8,265.3 771.8,250.4 779.8,235.7 787.9,229.9 795.9,213.7 803.9,205.0 812.0,199.4 820.0,204.3 828.0,224.0 836.0,232.5 844.1,228.8 852.1,229.2 860.1,239.5 868.2,254.5 876.2,270.6 884.2,282.4 892.2,287.4 900.3,285.9 908.3,284.5 916.3,281.0 924.4,271.5 932.4,264.9 940.4,257.2 948.5,253.0 956.5,247.9 964.5,255.1 972.5,262.7 980.6,264.8 988.6,269.9 996.6,278.6 1004.7,275.9 1012.7,276.8 1020.7,274.8 1028.7,270.5 1036.8,266.1 1044.8,255.2 1052.8,252.7 1060.9,247.1 1068.9,245.3 1076.9,253.4 1084.9,258.6 1093.0,293.5 1101.0,323.8 1109.0,352.0 1117.1,371.2 1125.1,384.8 1133.1,393.8 1141.1,396.2 1149.2,404.8 1157.2,421.2 1165.2,440.2 1173.3,458.6 1181.3,457.1 1189.3,461.2 1197.3,459.8 1205.4,453.5 1213.4,448.4 1221.4,443.2 1229.5,455.4 1237.5,473.1 1245.5,485.4 1253.5,491.5 1261.6,486.8 1269.6,483.6 1277.6,473.2 1285.7,458.6 1293.7,453.1 1301.7,448.1 1309.7,439.6 1317.8,436.2 1325.8,433.1 1333.8,434.5 1341.9,439.5 1349.9,455.5 1357.9,463.9 1365.9,463.9 1374.0,471.9 1382.0,474.5 1390.0,472.2 1398.1,475.3 1406.1,470.7" fill="none" stroke="#f0a35e" stroke-width="1.2"/>
<path d="M828.5 48V808M828.5 809V946" stroke="#7a7d86" stroke-width="1" stroke-dasharray="5 4"/>
<path d="M3 469.5H1491" stroke="#7a7d86" stroke-width="1" stroke-dasharray="5 4"/>
</g>
<g clip-path="url(#cr)">
<rect x="3" y="823.4" width="1488" height="97.0" fill="#f3e7fb"/>
<path d="M3 847.6H1491M3 896.1H1491" stroke="#e6d9f0" stroke-width="1"/>
<path d="M41.5 823.4V920.4" stroke="#e9dcf3" stroke-width="1"/>
<path d="M113.5 823.4V920.4" stroke="#e9dcf3" stroke-width="1"/>
<path d="M202.5 823.4V920.4" stroke="#e9dcf3" stroke-width="1"/>
<path d="M282.5 823.4V920.4" stroke="#e9dcf3" stroke-width="1"/>
<path d="M362.5 823.4V920.4" stroke="#e9dcf3" stroke-width="1"/>
<path d="M467.5 823.4V920.4" stroke="#e9dcf3" stroke-width="1"/>
<path d="M563.5 823.4V920.4" stroke="#e9dcf3" stroke-width="1"/>
<path d="M643.5 823.4V920.4" stroke="#e9dcf3" stroke-width="1"/>
<path d="M724.5 823.4V920.4" stroke="#e9dcf3" stroke-width="1"/>
<path d="M812.5 823.4V920.4" stroke="#e9dcf3" stroke-width="1"/>
<path d="M884.5 823.4V920.4" stroke="#e9dcf3" stroke-width="1"/>
<path d="M989.5 823.4V920.4" stroke="#e9dcf3" stroke-width="1"/>
<path d="M1085.5 823.4V920.4" stroke="#e9dcf3" stroke-width="1"/>
<path d="M1165.5 823.4V920.4" stroke="#e9dcf3" stroke-width="1"/>
<path d="M1246.5 823.4V920.4" stroke="#e9dcf3" stroke-width="1"/>
<path d="M1342.5 823.4V920.4" stroke="#e9dcf3" stroke-width="1"/>
<path d="M1446.5 823.4V920.4" stroke="#e9dcf3" stroke-width="1"/>
<path d="M3 823.4H1491M3 920.4H1491" stroke="#8a8d96" stroke-width="1" stroke-dasharray="4 4"/>
<polyline points="1.1,869.9 9.1,873.7 17.1,870.9 25.1,868.4 33.2,855.6 41.2,851.5 49.2,836.1 57.3,843.8 65.3,858.6 73.3,855.4 81.3,853.2 89.4,857.1 97.4,860.2 105.4,863.4 113.5,879.3 121.5,873.3 129.5,888.8 137.5,892.1 145.6,876.5 153.6,874.7 161.6,877.6 169.7,884.7 177.7,876.4 185.7,867.0 193.7,866.2 201.8,858.5 209.8,852.6 217.8,855.6 225.9,865.0 233.9,882.6 241.9,868.6 249.9,867.4 258.0,853.7 266.0,879.6 274.0,889.8 282.1,898.4 290.1,890.4 298.1,884.0 306.1,892.5 314.2,876.5 322.2,876.1 330.2,874.9 338.3,883.5 346.3,884.2 354.3,887.6 362.3,899.0 370.4,878.2 378.4,874.8 386.4,881.2 394.5,883.9 402.5,883.9 410.5,883.6 418.6,885.3 426.6,889.1 434.6,890.6 442.6,872.0 450.7,882.1 458.7,885.1 466.7,878.6 474.8,884.8 482.8,877.0 490.8,843.2 498.8,831.8 506.9,833.1 514.9,843.1 522.9,827.8 531.0,839.4 539.0,853.0 547.0,862.2 555.0,876.6 563.1,871.2 571.1,872.9 579.1,885.8 587.2,905.1 595.2,930.9 603.2,934.0 611.2,925.8 619.3,908.6 627.3,876.9 635.3,870.0 643.4,856.7 651.4,846.9 659.4,858.8 667.4,871.4 675.5,876.2 683.5,877.3 691.5,885.0 699.6,863.5 707.6,844.6 715.6,848.2 723.6,835.1 731.7,837.2 739.7,843.4 747.7,840.9 755.8,856.3 763.8,849.5 771.8,841.2 779.8,838.7 787.9,848.0 795.9,837.3 803.9,843.7 812.0,845.8 820.0,859.8 828.0,879.3 836.0,870.6 844.1,859.2 852.1,863.4 860.1,875.5 868.2,882.9 876.2,887.2 884.2,885.7 892.2,879.5 900.3,871.8 908.3,871.5 916.3,868.0 924.4,858.6 932.4,860.5 940.4,856.9 948.5,860.6 956.5,857.8 964.5,878.0 972.5,881.1 980.6,873.6 988.6,879.6 996.6,887.3 1004.7,869.3 1012.7,874.6 1020.7,869.8 1028.7,864.8 1036.8,863.2 1044.8,850.7 1052.8,863.7 1060.9,857.4 1068.9,863.2 1076.9,881.3 1084.9,878.6 1093.0,917.0 1101.0,919.1 1109.0,922.6 1117.1,915.5 1125.1,911.7 1133.1,907.8 1141.1,897.5 1149.2,905.9 1157.2,916.4 1165.2,922.1 1173.3,925.0 1181.3,893.0 1189.3,899.0 1197.3,891.0 1205.4,882.2 1213.4,882.2 1221.4,880.3 1229.5,901.9 1237.5,910.3 1245.5,906.7 1253.5,899.4 1261.6,882.6 1269.6,883.3 1277.6,870.5 1285.7,861.3 1293.7,871.1 1301.7,870.4 1309.7,863.0 1317.8,869.2 1325.8,868.4 1333.8,875.7 1341.9,882.4 1349.9,900.4 1357.9,891.4 1365.9,878.7 1374.0,890.5 1382.0,883.7 1390.0,875.7 1398.1,883.5 1406.1,871.2" fill="none" stroke="#ee9c74" stroke-width="1.4"/>
<path d="M828.5 809V946" stroke="#7a7d86" stroke-width="1" stroke-dasharray="5 4"/>
</g>
<rect x="3" y="808" width="1546" height="1" fill="#dfe2e8"/>
<rect x="1491" y="48" width="1" height="929" fill="#4a4d57"/>
<rect x="3" y="946" width="1546" height="1" fill="#4a4d57"/>
<text x="1500.3" y="768.4" font-size="15" fill="#50535e" stroke="#50535e" stroke-width="0.35" textLength="35" lengthAdjust="spacingAndGlyphs">148.000</text>
<text x="1500.3" y="715.4" font-size="15" fill="#50535e" stroke="#50535e" stroke-width="0.35" textLength="35" lengthAdjust="spacingAndGlyphs">150.000</text>
<text x="1500.3" y="662.4" font-size="15" fill="#50535e" stroke="#50535e" stroke-width="0.35" textLength="35" lengthAdjust="spacingAndGlyphs">152.000</text>
<text x="1500.3" y="609.4" font-size="15" fill="#50535e" stroke="#50535e" stroke-width="0.35" textLength="35" lengthAdjust="spacingAndGlyphs">154.000</text>
<text x="1500.3" y="556.4" font-size="15" fill="#50535e" stroke="#50535e" stroke-width="0.35" textLength="35" lengthAdjust="spacingAndGlyphs">156.000</text>
<text x="1500.3" y="503.4" font-size="15" fill="#50535e" stroke="#50535e" stroke-width="0.35" textLength="35" lengthAdjust="spacingAndGlyphs">158.000</text>
<text x="1500.3" y="397.4" font-size="15" fill="#50535e" stroke="#50535e" stroke-width="0.35" textLength="35" lengthAdjust="spacingAndGlyphs">162.000</text>
<text x="1500.3" y="344.4" font-size="15" fill="#50535e" stroke="#50535e" stroke-width="0.35" textLength="35" lengthAdjust="spacingAndGlyphs">164.000</text>
<text x="1500.3" y="291.4" font-size="15" fill="#50535e" stroke="#50535e" stroke-width="0.35" textLength="35" lengthAdjust="spacingAndGlyphs">166.000</text>
<text x="1500.3" y="238.4" font-size="15" fill="#50535e" stroke="#50535e" stroke-width="0.35" textLength="35" lengthAdjust="spacingAndGlyphs">168.000</text>
<text x="1500.3" y="132.4" font-size="15" fill="#50535e" stroke="#50535e" stroke-width="0.35" textLength="35" lengthAdjust="spacingAndGlyphs">172.000</text>
<text x="1500.3" y="79.6" font-size="15" fill="#cfd1d6" stroke="#cfd1d6" stroke-width="0.35" textLength="35" lengthAdjust="spacingAndGlyphs">174.000</text>
<rect x="1492" y="49" width="56" height="24.5" fill="#ffffff"/>
<text x="1499.5" y="852.6" font-size="14" fill="#50535e" stroke="#50535e" stroke-width="0.35" textLength="25" lengthAdjust="spacingAndGlyphs">60.00</text>
<text x="1499.5" y="901.1" font-size="14" fill="#50535e" stroke="#50535e" stroke-width="0.35" textLength="25" lengthAdjust="spacingAndGlyphs">40.00</text>
<text x="1499.5" y="949.6" font-size="14" fill="#50535e" stroke="#50535e" stroke-width="0.35" textLength="25" lengthAdjust="spacingAndGlyphs">20.00</text>
<rect x="3" y="946" width="1546" height="31" fill="#ffffff"/>
<rect x="1491" y="48" width="1" height="929" fill="#4a4d57"/>
<rect x="3" y="946" width="1546" height="1" fill="#4a4d57"/>
<rect x="1491" y="169" width="50" height="19.3" rx="2" fill="#fb0b0b"/>
<rect x="1491" y="169" width="4" height="19.3" fill="#fb0b0b"/>
<text x="1500.8" y="184.1" font-size="15" fill="#ffffff" stroke="#ffffff" stroke-width="0.35" textLength="34.6" lengthAdjust="spacingAndGlyphs">170.075</text>
<rect x="1491" y="305" width="50" height="19.3" rx="2" fill="#2f7717"/>
<rect x="1491" y="305" width="4" height="19.3" fill="#2f7717"/>
<text x="1500.8" y="320.0" font-size="15" fill="#ffffff" stroke="#ffffff" stroke-width="0.35" textLength="34.6" lengthAdjust="spacingAndGlyphs">164.939</text>
<rect x="1491" y="407.5" width="50" height="18.8" rx="2" fill="#f57c15"/>
<rect x="1491" y="407.5" width="4" height="18.8" fill="#f57c15"/>
<text x="1500.8" y="422.3" font-size="15" fill="#ffffff" stroke="#ffffff" stroke-width="0.35" textLength="34.6" lengthAdjust="spacingAndGlyphs">161.078</text>
<text x="1500.3" y="450.4" font-size="15" fill="#50535e" stroke="#50535e" stroke-width="0.35" textLength="35" lengthAdjust="spacingAndGlyphs">160.000</text>
<rect x="1491" y="443" width="53" height="36" rx="2" fill="#26a69a"/>
<text x="1500.8" y="457.8" font-size="15" fill="#ffffff" stroke="#ffffff" stroke-width="0.35" textLength="34.6" lengthAdjust="spacingAndGlyphs">159.734</text>
<rect x="1472" y="458" width="69" height="23" rx="2" fill="#131722"/>
<circle cx="1481.5" cy="469.5" r="6.3" fill="none" stroke="#d1d4dc" stroke-width="1.2"/>
<path d="M1481.5 466.2V472.8M1478.2 469.5H1484.8" stroke="#ffffff" stroke-width="1.3"/>
<text x="1500.8" y="475" font-size="15" fill="#ffffff" stroke="#ffffff" stroke-width="0.35" textLength="34.6" lengthAdjust="spacingAndGlyphs">159.090</text>
<rect x="1491" y="520.3" width="50" height="19.3" rx="2" fill="#fbe947"/>
<rect x="1491" y="520.3" width="4" height="19.3" fill="#fbe947"/>
<text x="1500.8" y="535.3" font-size="15" fill="#131722" stroke="#131722" stroke-width="0.35" textLength="34.6" lengthAdjust="spacingAndGlyphs">156.798</text>
<rect x="1491" y="577" width="50" height="19.5" rx="2" fill="#84cde0"/>
<rect x="1491" y="577" width="4" height="19.5" fill="#84cde0"/>
<text x="1500.8" y="592.1" font-size="15" fill="#131722" stroke="#131722" stroke-width="0.35" textLength="34.6" lengthAdjust="spacingAndGlyphs">154.636</text>
<text x="1500" y="66" font-size="13" fill="#50535e" stroke="#50535e" stroke-width="0.35" textLength="17" lengthAdjust="spacingAndGlyphs">JPY</text>
<path d="M1519 61.5l2.5 2.5 2.5-2.5" stroke="#50535e" stroke-width="1.2" fill="none"/>
<text x="41.7" y="966.5" font-size="14" fill="#50535e" stroke="#50535e" stroke-width="0.35" text-anchor="middle" textLength="11.5" lengthAdjust="spacingAndGlyphs">20</text>
<text x="114.0" y="966.5" font-size="14" fill="#50535e" stroke="#50535e" stroke-width="0.35" text-anchor="middle" textLength="13.4" lengthAdjust="spacingAndGlyphs">Jul</text>
<text x="202.3" y="966.5" font-size="14" fill="#50535e" stroke="#50535e" stroke-width="0.35" text-anchor="middle" textLength="11.5" lengthAdjust="spacingAndGlyphs">18</text>
<text x="282.6" y="966.5" font-size="14" fill="#50535e" stroke="#50535e" stroke-width="0.35" text-anchor="middle" textLength="17.7" lengthAdjust="spacingAndGlyphs">Aug</text>
<text x="362.8" y="966.5" font-size="14" fill="#50535e" stroke="#50535e" stroke-width="0.35" text-anchor="middle" textLength="11.5" lengthAdjust="spacingAndGlyphs">15</text>
<text x="467.2" y="966.5" font-size="14" fill="#50535e" stroke="#50535e" stroke-width="0.35" text-anchor="middle" textLength="18.4" lengthAdjust="spacingAndGlyphs">Sep</text>
<text x="563.6" y="966.5" font-size="14" fill="#50535e" stroke="#50535e" stroke-width="0.35" text-anchor="middle" textLength="11.5" lengthAdjust="spacingAndGlyphs">19</text>
<text x="643.9" y="966.5" font-size="14" fill="#50535e" stroke="#50535e" stroke-width="0.35" text-anchor="middle" textLength="17" lengthAdjust="spacingAndGlyphs">Oct</text>
<text x="724.1" y="966.5" font-size="14" fill="#50535e" stroke="#50535e" stroke-width="0.35" text-anchor="middle" textLength="11.5" lengthAdjust="spacingAndGlyphs">17</text>
<text x="884.7" y="966.5" font-size="14" fill="#50535e" stroke="#50535e" stroke-width="0.35" text-anchor="middle" textLength="11.5" lengthAdjust="spacingAndGlyphs">14</text>
<text x="989.1" y="966.5" font-size="14" fill="#50535e" stroke="#50535e" stroke-width="0.35" text-anchor="middle" textLength="18" lengthAdjust="spacingAndGlyphs">Dec</text>
<text x="1085.4" y="966.5" font-size="14" fill="#50535e" stroke="#50535e" stroke-width="0.35" text-anchor="middle" textLength="11.5" lengthAdjust="spacingAndGlyphs">19</text>
<text x="1165.7" y="966.5" font-size="14" fill="#50535e" stroke="#50535e" stroke-width="0.35" text-anchor="middle" textLength="23.5" lengthAdjust="spacingAndGlyphs">2023</text>
<text x="1246.0" y="966.5" font-size="14" fill="#50535e" stroke="#50535e" stroke-width="0.35" text-anchor="middle" textLength="11.5" lengthAdjust="spacingAndGlyphs">16</text>
<text x="1342.4" y="966.5" font-size="14" fill="#50535e" stroke="#50535e" stroke-width="0.35" text-anchor="middle" textLength="17" lengthAdjust="spacingAndGlyphs">Feb</text>
<text x="1446.7" y="966.5" font-size="14" fill="#50535e" stroke="#50535e" stroke-width="0.35" text-anchor="middle" textLength="11.5" lengthAdjust="spacingAndGlyphs">20</text>
<rect x="787" y="947" width="81.5" height="27" rx="2" fill="#131722"/>
<text x="827.75" y="966.5" font-size="14" fill="#ffffff" stroke="#ffffff" stroke-width="0.35" text-anchor="middle" textLength="69" lengthAdjust="spacingAndGlyphs">Thu 03 Nov '22</text>
<g transform="translate(1520 962)" fill="none" stroke="#131722" stroke-width="1.3"><circle r="4.2"/><path d="M0 -7.5V-5.2M0 5.2V7.5M-7.5 0H-5.2M5.2 0H7.5M-5.3 -5.3L-3.7 -3.7M3.7 3.7L5.3 5.3M-5.3 5.3L-3.7 3.7M3.7 -3.7L5.3 -5.3"/></g>
<rect x="3" y="52" width="604" height="29" fill="#ffffff"/>
<rect x="3" y="83" width="140" height="31" fill="#ffffff"/>
<rect x="3" y="120" width="120" height="22" fill="#ffffff"/>
<rect x="3" y="147" width="216" height="22" fill="#ffffff"/>
<text x="10" y="72.5" font-size="16.5" fill="#3b3e48" stroke="#3b3e48" stroke-width="0.35" textLength="246" lengthAdjust="spacingAndGlyphs">British Pound / Japanese Yen · 1D · FXCM</text>
<rect x="271.5" y="58" width="13" height="18" rx="4" fill="#d5efe6"/><ellipse cx="278" cy="67" rx="2.6" ry="3.2" fill="#0c8a5e"/>
<rect x="286" y="58" width="14.5" height="18" rx="4" fill="#f6bfd2"/>
<text x="293.2" y="71.5" font-size="14" fill="#d81b60" stroke="#d81b60" stroke-width="0.35" text-anchor="middle" textLength="8" lengthAdjust="spacingAndGlyphs">≈</text>
<text x="316.6" y="72.5" font-size="14" fill="#50535e" stroke="#50535e" stroke-width="0.35" textLength="6" lengthAdjust="spacingAndGlyphs">O</text>
<text x="325.8" y="72.5" font-size="14" fill="#d65a64" stroke="#d65a64" stroke-width="0.35" textLength="37.5" lengthAdjust="spacingAndGlyphs">168.388</text>
<text x="368.7" y="72.5" font-size="14" fill="#50535e" stroke="#50535e" stroke-width="0.35" textLength="6.2" lengthAdjust="spacingAndGlyphs">H</text>
<text x="378" y="72.5" font-size="14" fill="#d65a64" stroke="#d65a64" stroke-width="0.35" textLength="37.4" lengthAdjust="spacingAndGlyphs">168.574</text>
<text x="420.6" y="72.5" font-size="14" fill="#50535e" stroke="#50535e" stroke-width="0.35" textLength="5.2" lengthAdjust="spacingAndGlyphs">L</text>
<text x="428.9" y="72.5" font-size="14" fill="#d65a64" stroke="#d65a64" stroke-width="0.35" textLength="36.3" lengthAdjust="spacingAndGlyphs">165.075</text>
<text x="471.7" y="72.5" font-size="14" fill="#50535e" stroke="#50535e" stroke-width="0.35" textLength="6.2" lengthAdjust="spacingAndGlyphs">C</text>
<text x="480.2" y="72.5" font-size="14" fill="#d65a64" stroke="#d65a64" stroke-width="0.35" textLength="37.5" lengthAdjust="spacingAndGlyphs">165.379</text>
<text x="522.4" y="72.5" font-size="14" fill="#d65a64" stroke="#d65a64" stroke-width="0.35" textLength="33.2" lengthAdjust="spacingAndGlyphs">−3.009</text>
<text x="560.2" y="72.5" font-size="14" fill="#d65a64" stroke="#d65a64" stroke-width="0.35" textLength="40.2" lengthAdjust="spacingAndGlyphs">(−1.79%)</text>
<rect x="10.2" y="85.2" width="50.6" height="26" rx="3" fill="#fff" stroke="#ec6f74" stroke-width="1"/>
<text x="16.7" y="104" font-size="15" fill="#e0454b" stroke="#e0454b" stroke-width="0.35" textLength="33" lengthAdjust="spacingAndGlyphs">159.72</text>
<text x="50.2" y="99" font-size="10" fill="#e0454b" stroke="#e0454b" stroke-width="0.35" textLength="4.5" lengthAdjust="spacingAndGlyphs">0</text>
<text x="69" y="104" font-size="14" fill="#2a2e39" stroke="#2a2e39" stroke-width="0.35" textLength="11.5" lengthAdjust="spacingAndGlyphs">1.8</text>
<rect x="88.8" y="85.2" width="49.4" height="26" rx="3" fill="#fff" stroke="#5a6bc8" stroke-width="1"/>
<text x="95.2" y="104" font-size="15" fill="#3451c4" stroke="#3451c4" stroke-width="0.35" textLength="33" lengthAdjust="spacingAndGlyphs">159.73</text>
<text x="128.6" y="99" font-size="10" fill="#3451c4" stroke="#3451c4" stroke-width="0.35" textLength="4.5" lengthAdjust="spacingAndGlyphs">8</text>
<text x="10.4" y="135.7" font-size="14" fill="#50535e" stroke="#50535e" stroke-width="0.35" textLength="57.6" lengthAdjust="spacingAndGlyphs">EMA 9 close</text>
<text x="81.1" y="135.7" font-size="14" fill="#ef9a4c" stroke="#ef9a4c" stroke-width="0.35" textLength="37.3" lengthAdjust="spacingAndGlyphs">168.371</text>
<text x="10.4" y="163" font-size="14" fill="#50535e" stroke="#50535e" stroke-width="0.35" textLength="65" lengthAdjust="spacingAndGlyphs">BB 20 close 2</text>
<text x="88.8" y="163" font-size="14" fill="#6e4652" stroke="#6e4652" stroke-width="0.35" textLength="37" lengthAdjust="spacingAndGlyphs">167.097</text>
<text x="132.9" y="163" font-size="14" fill="#3f8a86" stroke="#3f8a86" stroke-width="0.35" textLength="37.3" lengthAdjust="spacingAndGlyphs">173.647</text>
<text x="176.9" y="163" font-size="14" fill="#3f8a86" stroke="#3f8a86" stroke-width="0.35" textLength="37.4" lengthAdjust="spacingAndGlyphs">160.548</text>
<rect x="11" y="174.2" width="23" height="23.2" rx="3" fill="#ffffff" fill-opacity="0.78" stroke="#dfe1e6" stroke-width="1"/>
<path d="M19 188.4l3.3-4 3.3 4" fill="none" stroke="#131722" stroke-width="1.6"/>
<rect x="1427" y="55.5" width="15" height="19" rx="2" fill="#ffffff" stroke="#e3e5ea" stroke-width="1"/>
<rect x="1448" y="55.5" width="15" height="19" rx="2" fill="#ffffff" stroke="#e3e5ea" stroke-width="1"/>
<rect x="1469.5" y="55.5" width="15" height="19" rx="2" fill="#ffffff" stroke="#e3e5ea" stroke-width="1"/>
<path d="M1434.5 59.5V70.5M1431.5 67.5l3 3 3-3" fill="none" stroke="#50535e" stroke-width="1.2"/>
<path d="M1452.5 59l3 3 3-3M1452.5 71l3-3 3 3" fill="none" stroke="#50535e" stroke-width="1.2"/>
<path d="M1475 59.5h-1.5a1.5 1.5 0 0 0-1.5 1.5v8a1.5 1.5 0 0 0 1.5 1.5h1.5M1481 59.5h1.5a1.5 1.5 0 0 1 1.5 1.5v8a1.5 1.5 0 0 1-1.5 1.5h-1.5" fill="none" stroke="#50535e" stroke-width="1.2"/>
<rect x="3" y="820" width="109" height="26" fill="#ffffff" opacity="0.75"/>
<text x="10.5" y="832.8" font-size="14" fill="#50535e" stroke="#50535e" stroke-width="0.35" textLength="57.5" lengthAdjust="spacingAndGlyphs">RSI 14 close</text>
<text x="81" y="832.8" font-size="14" fill="#ef9a4c" stroke="#ef9a4c" stroke-width="0.35" textLength="26.3" lengthAdjust="spacingAndGlyphs">46.88</text>
<rect x="11" y="903.3" width="85.2" height="35.7" rx="12" ry="17" fill="#ffffff" stroke="#e6e8ec" stroke-width="1.2"/>
<path d="M13.6 915.1h7.7v12.4h-3.3v-8h-4.4z" fill="#131722"/><ellipse cx="23.9" cy="917.9" rx="1.4" ry="1.8" fill="#131722"/><path d="M24.3 927.5l2.7-12.4h4.7l-2.7 12.4z" fill="#131722"/>
<text x="36.4" y="925.8" font-size="13" fill="#2a2e39" stroke="#2a2e39" stroke-width="0.35" textLength="55" lengthAdjust="spacingAndGlyphs">TradingView</text>
<ellipse cx="1405.5" cy="764.7" rx="7.6" ry="11" fill="#ffffff" stroke="#8e36b0" stroke-width="1.6"/>
<path d="M1408.3 756.8l-5.2 9.2h3.6l-2.6 7 5.6-9.6h-3.6z" fill="#9c27b0"/>
<clipPath id="uk1"><ellipse cx="1422" cy="764.7" rx="6.6" ry="9.8"/></clipPath><ellipse cx="1422" cy="764.7" rx="7.4" ry="10.8" fill="#ffffff" stroke="#d94a63" stroke-width="1.6"/><g clip-path="url(#uk1)"><rect x="1414" y="753.7" width="16" height="22" fill="#4b4898"/><path d="M1414 753.7L1430 775.7M1430 753.7L1414 775.7" stroke="#f4eef4" stroke-width="4.2"/><path d="M1414 753.7L1430 775.7M1430 753.7L1414 775.7" stroke="#e53950" stroke-width="1"/><path d="M1414 764.7H1430M1422 753.7V775.7" stroke="#f4eef4" stroke-width="3.6"/><path d="M1414 764.7H1430M1422 753.7V775.7" stroke="#e53950" stroke-width="2"/></g>
<ellipse cx="1423" cy="792.5" rx="7.4" ry="10.8" fill="#ffffff" stroke="#e04b5e" stroke-width="1.6"/>
<clipPath id="uk2"><ellipse cx="1414" cy="792.5" rx="6.6" ry="9.8"/></clipPath><ellipse cx="1414" cy="792.5" rx="7.4" ry="10.8" fill="#ffffff" stroke="#d94a63" stroke-width="1.6"/><g clip-path="url(#uk2)"><rect x="1406" y="781.5" width="16" height="22" fill="#4b4898"/><path d="M1406 781.5L1422 803.5M1422 781.5L1406 803.5" stroke="#f4eef4" stroke-width="4.2"/><path d="M1406 781.5L1422 803.5M1422 781.5L1406 803.5" stroke="#e53950" stroke-width="1"/><path d="M1406 792.5H1422M1414 781.5V803.5" stroke="#f4eef4" stroke-width="3.6"/><path d="M1406 792.5H1422M1414 781.5V803.5" stroke="#e53950" stroke-width="2"/></g>
<ellipse cx="1405" cy="792.5" rx="7.6" ry="10.8" fill="#ffffff" stroke="#e04b5e" stroke-width="1.6"/>
<ellipse cx="1405.5" cy="792.5" rx="2.8" ry="4" fill="#f23645"/>
<clipPath id="uk3"><ellipse cx="1438.5" cy="792.5" rx="6.6" ry="9.8"/></clipPath><ellipse cx="1438.5" cy="792.5" rx="7.4" ry="10.8" fill="#ffffff" stroke="#d94a63" stroke-width="1.6"/><g clip-path="url(#uk3)"><rect x="1430.5" y="781.5" width="16" height="22" fill="#4b4898"/><path d="M1430.5 781.5L1446.5 803.5M1446.5 781.5L1430.5 803.5" stroke="#f4eef4" stroke-width="4.2"/><path d="M1430.5 781.5L1446.5 803.5M1446.5 781.5L1430.5 803.5" stroke="#e53950" stroke-width="1"/><path d="M1430.5 792.5H1446.5M1438.5 781.5V803.5" stroke="#f4eef4" stroke-width="3.6"/><path d="M1430.5 792.5H1446.5M1438.5 781.5V803.5" stroke="#e53950" stroke-width="2"/></g>
<ellipse cx="14.3" cy="23.7" rx="5.2" ry="7" fill="#e8798f"/><path d="M10 18.5l2.2 2.2M18.6 18.5l-2.2 2.2M10 29l2.2-2.2M18.6 29l-2.2-2.2" stroke="#3b2d5e" stroke-width="2.2"/><path d="M9.3 23.7H19.3M14.3 16.8V30.6" stroke="#f8c8d4" stroke-width="2.4"/><path d="M9.3 23.7H19.3M14.3 16.8V30.6" stroke="#e33a5e" stroke-width="1.3"/>
<ellipse cx="19.9" cy="16.8" rx="2.3" ry="3" fill="#b5402f"/>
<text x="29.7" y="27.3" font-size="15.5" fill="#3049cc" textLength="42.3" lengthAdjust="spacingAndGlyphs" font-weight="bold">GBPJPY</text>
<ellipse cx="103.4" cy="22" rx="8" ry="10" fill="none" stroke="#131722" stroke-width="1.3"/><path d="M103.4 17V27M99.2 22H107.6" stroke="#131722" stroke-width="1.3"/>
<rect x="124" y="9" width="1" height="26" fill="#e6e8ec"/>
<rect x="163" y="9" width="1" height="26" fill="#e6e8ec"/>
<rect x="203" y="9" width="1" height="26" fill="#e6e8ec"/>
<rect x="334.8" y="9" width="1" height="26" fill="#e6e8ec"/>
<rect x="480.8" y="9" width="1" height="26" fill="#e6e8ec"/>
<rect x="1391" y="9" width="1" height="26" fill="#e6e8ec"/>
<text x="140.5" y="27.6" font-size="16.5" fill="#131722" stroke="#131722" stroke-width="0.35" textLength="7.2" lengthAdjust="spacingAndGlyphs">D</text>
<path d="M179.3 12.5V33M187.5 13.5V31.5" stroke="#131722" stroke-width="1.2"/><rect x="177.6" y="16" width="3.4" height="13.5" rx="1" fill="#fff" stroke="#131722" stroke-width="1.2"/><rect x="185.8" y="17.5" width="3.4" height="9" rx="1" fill="#fff" stroke="#131722" stroke-width="1.2"/>
<path d="M216 22l4.5-6 3.5 3.5 7-8" fill="none" stroke="#131722" stroke-width="1.3"/><path d="M216.5 32v-5h3v5M220.5 32v-7.5h3V32M224.5 32v-9.5h3V32M228.5 32V20h3v12M216 32.3h15.8" fill="none" stroke="#131722" stroke-width="1.2"/>
<text x="237" y="27.8" font-size="16" fill="#131722" stroke="#131722" stroke-width="0.35" textLength="52.2" lengthAdjust="spacingAndGlyphs">Indicators</text>
<rect x="307.5" y="13.5" width="5.5" height="7.5" rx="2" fill="none" stroke="#131722" stroke-width="1.2"/>
<rect x="315" y="13.5" width="5.5" height="7.5" rx="2" fill="none" stroke="#131722" stroke-width="1.2"/>
<rect x="307.5" y="23.5" width="5.5" height="7.5" rx="2" fill="none" stroke="#131722" stroke-width="1.2"/>
<rect x="315" y="23.5" width="5.5" height="7.5" rx="2" fill="none" stroke="#131722" stroke-width="1.2"/>
<path d="M346.6 17.2Q347 12.5 349.6 11.6Q351.3 11.2 352.4 12.8M356.6 12.6Q357.8 11.2 359.4 11.9Q362.2 13.5 361.6 17.6L360.8 22.2" fill="none" stroke="#131722" stroke-width="1.3"/><path d="M358.3 15.5A6.8 9.2 0 1 0 353.6 31.6" fill="none" stroke="#131722" stroke-width="1.3"/><path d="M354.2 16.6v5.8h-2.9" fill="none" stroke="#131722" stroke-width="1.3"/><path d="M359.4 24.6v9.6M355.6 29.3h7.6" stroke="#131722" stroke-width="1.4"/>
<text x="368.6" y="27.8" font-size="16" fill="#131722" stroke="#131722" stroke-width="0.35" textLength="25.5" lengthAdjust="spacingAndGlyphs">Alert</text>
<path d="M418.6 16.4L413.4 22.3L418.6 28.2ZM425.4 16.4L420.8 22.3L425.4 28.2Z" fill="none" stroke="#131722" stroke-width="1.3" stroke-linejoin="round"/>
<text x="432.8" y="27.8" font-size="16" fill="#131722" stroke="#131722" stroke-width="0.35" textLength="35.4" lengthAdjust="spacingAndGlyphs">Replay</text>
<path d="M498 17.5l-3.5 3.5 3.5 3.5M494.5 21h6.5a4.5 4.5 0 0 1 4.5 4.5v1.5" fill="none" stroke="#131722" stroke-width="1.3"/>
<path d="M534.5 17.5l3.5 3.5-3.5 3.5M538 21h-6.5a4.5 4.5 0 0 0-4.5 4.5v1.5" fill="none" stroke="#c8cbd2" stroke-width="1.3"/>
<rect x="1287.3" y="13" width="16" height="18" rx="2" fill="none" stroke="#131722" stroke-width="1.3"/>
<text x="1315.7" y="21.6" font-size="14" fill="#131722" stroke="#131722" stroke-width="0.35" textLength="49.3" lengthAdjust="spacingAndGlyphs">Unnamed</text>
<text x="1332" y="34.2" font-size="10.5" fill="#5065d8" stroke="#5065d8" stroke-width="0.35" textLength="17.5" lengthAdjust="spacingAndGlyphs">Save</text>
<path d="M1376.3 19l3.3 3.6 3.3-3.6" fill="none" stroke="#131722" stroke-width="1.3"/>
<ellipse cx="1410" cy="20" rx="6" ry="7.5" fill="none" stroke="#131722" stroke-width="1.4"/><path d="M1414.3 25.8l4.6 6.4" stroke="#131722" stroke-width="1.5"/>
<polygon points="1444.00,10.50 1444.23,10.50 1444.45,10.52 1444.67,10.53 1444.90,10.56 1445.12,10.59 1445.26,11.29 1445.37,12.05 1445.44,12.82 1445.49,13.58 1445.65,13.64 1445.81,13.70 1445.97,13.76 1446.12,13.83 1446.28,13.90 1446.44,13.98 1446.59,14.06 1446.74,14.15 1446.89,14.25 1447.04,14.35 1447.18,14.45 1447.33,14.56 1447.78,14.06 1448.25,13.58 1448.75,13.13 1449.24,12.77 1449.41,12.95 1449.59,13.14 1449.75,13.33 1449.92,13.52 1450.08,13.72 1450.24,13.93 1450.39,14.14 1450.54,14.36 1450.68,14.58 1450.82,14.80 1450.54,15.42 1450.19,16.06 1449.82,16.67 1449.43,17.25 1449.51,17.43 1449.59,17.62 1449.67,17.80 1449.74,18.00 1449.81,18.19 1449.88,18.38 1449.94,18.58 1450.00,18.78 1450.05,18.98 1450.10,19.19 1450.15,19.39 1450.19,19.60 1450.79,19.66 1451.38,19.75 1451.98,19.88 1452.53,20.06 1452.55,20.35 1452.57,20.64 1452.59,20.92 1452.60,21.21 1452.60,21.50 1452.60,21.79 1452.59,22.08 1452.57,22.36 1452.55,22.65 1452.53,22.94 1451.98,23.12 1451.38,23.25 1450.79,23.34 1450.19,23.40 1450.15,23.61 1450.10,23.81 1450.05,24.02 1450.00,24.22 1449.94,24.42 1449.88,24.62 1449.81,24.81 1449.74,25.00 1449.67,25.20 1449.59,25.38 1449.51,25.57 1449.43,25.75 1449.82,26.33 1450.19,26.94 1450.54,27.58 1450.82,28.20 1450.68,28.42 1450.54,28.64 1450.39,28.86 1450.24,29.07 1450.08,29.28 1449.92,29.48 1449.75,29.67 1449.59,29.86 1449.41,30.05 1449.24,30.23 1448.75,29.87 1448.25,29.42 1447.78,28.94 1447.33,28.44 1447.18,28.55 1447.04,28.65 1446.89,28.75 1446.74,28.85 1446.59,28.94 1446.44,29.02 1446.28,29.10 1446.12,29.17 1445.97,29.24 1445.81,29.30 1445.65,29.36 1445.49,29.42 1445.44,30.18 1445.37,30.95 1445.26,31.71 1445.12,32.41 1444.90,32.44 1444.67,32.47 1444.45,32.48 1444.23,32.50 1444.00,32.50 1443.77,32.50 1443.55,32.48 1443.33,32.47 1443.10,32.44 1442.88,32.41 1442.74,31.71 1442.63,30.95 1442.56,30.18 1442.51,29.42 1442.35,29.36 1442.19,29.30 1442.03,29.24 1441.88,29.17 1441.72,29.10 1441.56,29.02 1441.41,28.94 1441.26,28.85 1441.11,28.75 1440.96,28.65 1440.82,28.55 1440.67,28.44 1440.22,28.94 1439.75,29.42 1439.25,29.87 1438.76,30.23 1438.59,30.05 1438.41,29.86 1438.25,29.67 1438.08,29.48 1437.92,29.28 1437.76,29.07 1437.61,28.86 1437.46,28.64 1437.32,28.42 1437.18,28.20 1437.46,27.58 1437.81,26.94 1438.18,26.33 1438.57,25.75 1438.49,25.57 1438.41,25.38 1438.33,25.20 1438.26,25.00 1438.19,24.81 1438.12,24.62 1438.06,24.42 1438.00,24.22 1437.95,24.02 1437.90,23.81 1437.85,23.61 1437.81,23.40 1437.21,23.34 1436.62,23.25 1436.02,23.12 1435.47,22.94 1435.45,22.65 1435.43,22.36 1435.41,22.08 1435.40,21.79 1435.40,21.50 1435.40,21.21 1435.41,20.92 1435.43,20.64 1435.45,20.35 1435.47,20.06 1436.02,19.88 1436.62,19.75 1437.21,19.66 1437.81,19.60 1437.85,19.39 1437.90,19.19 1437.95,18.98 1438.00,18.78 1438.06,18.58 1438.12,18.38 1438.19,18.19 1438.26,18.00 1438.33,17.80 1438.41,17.62 1438.49,17.43 1438.57,17.25 1438.18,16.67 1437.81,16.06 1437.46,15.42 1437.18,14.80 1437.32,14.58 1437.46,14.36 1437.61,14.14 1437.76,13.93 1437.92,13.72 1438.08,13.52 1438.25,13.33 1438.41,13.14 1438.59,12.95 1438.76,12.77 1439.25,13.13 1439.75,13.58 1440.22,14.06 1440.67,14.56 1440.82,14.45 1440.96,14.35 1441.11,14.25 1441.26,14.15 1441.41,14.06 1441.56,13.98 1441.72,13.90 1441.88,13.83 1442.03,13.76 1442.19,13.70 1442.35,13.64 1442.51,13.58 1442.56,12.82 1442.63,12.05 1442.74,11.29 1442.88,10.59 1443.10,10.56 1443.33,10.53 1443.55,10.52 1443.77,10.50" fill="none" stroke="#131722" stroke-width="1.3" stroke-linejoin="round"/>
<ellipse cx="1444" cy="21.5" rx="2.5" ry="3.6" fill="none" stroke="#131722" stroke-width="1.3"/>
<path d="M1469.3 17v-2.8a1.5 1.5 0 0 1 1.5-1.5h2.5M1483 17v-2.8a1.5 1.5 0 0 0-1.5-1.5H1479M1469.3 26v2.8a1.5 1.5 0 0 0 1.5 1.5h2.5M1483 26v2.8a1.5 1.5 0 0 1-1.5 1.5H1479" fill="none" stroke="#131722" stroke-width="1.3"/>
<path d="M1499.8 15.8a1.3 1.3 0 0 1 1.3-1.3h3.2l1.4-2.4h5.4l1.4 2.4h3.2a1.3 1.3 0 0 1 1.3 1.3v13.4a1.3 1.3 0 0 1-1.3 1.3h-14.6a1.3 1.3 0 0 1-1.3-1.3z" fill="none" stroke="#131722" stroke-width="1.3"/><ellipse cx="1508.3" cy="22.6" rx="3.7" ry="5.2" fill="none" stroke="#131722" stroke-width="1.3"/>
<rect x="1528.6" y="5.5" width="40" height="32" rx="16" fill="#2962ff"/>
<text x="1538.6" y="27.5" font-size="15" fill="#ffffff" textLength="40" lengthAdjust="spacingAndGlyphs" font-weight="bold">Publish</text>
</svg>
</body></html>
